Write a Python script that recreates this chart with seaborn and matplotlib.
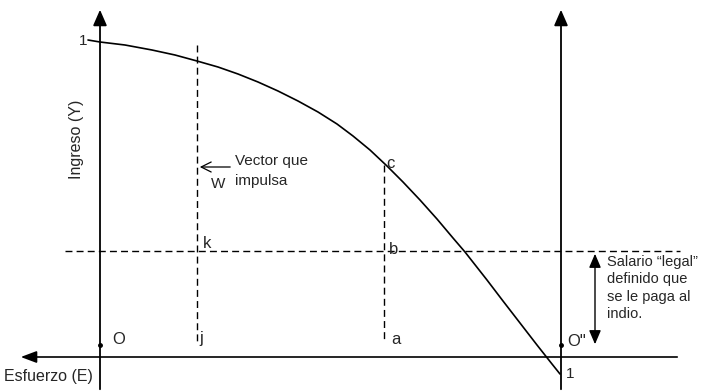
import matplotlib
matplotlib.use("Agg")
import matplotlib.pyplot as plt
import seaborn as sns
import pandas as pd

sns.set_theme(style="white")
plt.rcParams['font.family'] = ['Liberation Sans', 'DejaVu Sans']

# Diagram geometry (drawing units, y grows downward)
curve_x = [88, 100, 125, 152, 175, 197, 218, 238, 258, 278, 298, 318, 337,
           353, 370, 387, 403, 420, 437, 453, 465, 487, 503, 520, 537, 552, 560]
curve_y = [40, 42, 45, 50, 55, 61, 67, 74, 82, 91, 101, 112, 124,
           136, 150, 166, 182, 200, 219, 238, 252, 280, 301, 323, 345, 364, 374]

axis_left_x = 100
axis_right_x = 561
axis_h_y = 357
salary_y = 251
dash_vert_x = [197, 384]
dash_vert_top = [45, 165]
dash_vert_bottom = 342

point_labels = ["k", "b", "c", "j", "a", "O", "O\""]
point_lx = [203, 389, 386, 199, 391, 112, 567]
point_ly = [243, 249, 163, 338, 339, 339, 341]

df = pd.DataFrame({"E": curve_x, "Y": curve_y})

fig = plt.figure(figsize=(7.09, 3.92), dpi=100)
ax = fig.add_axes([0, 0, 1, 1])
ax.set_xlim(0, 709)
ax.set_ylim(392, 0)
ax.axis("off")

sns.lineplot(data=df, x="E", y="Y", ax=ax, color="black", lw=1.2, sort=False)

# axes with arrows
ax.annotate("", xy=(axis_left_x, 7), xytext=(axis_left_x, 392),
            arrowprops=dict(arrowstyle="-|>,head_length=0.8,head_width=0.35", color="black", lw=1.3))
ax.annotate("", xy=(axis_right_x, 7), xytext=(axis_right_x, 392),
            arrowprops=dict(arrowstyle="-|>,head_length=0.8,head_width=0.35", color="black", lw=1.3))
ax.annotate("", xy=(18, axis_h_y), xytext=(680, axis_h_y),
            arrowprops=dict(arrowstyle="-|>,head_length=0.8,head_width=0.3", color="black", lw=1.2))

# dashed lines
ax.plot([65, 680], [salary_y, salary_y], color="black", lw=1.0, ls=(0, (5, 3)))
for x, t in zip(dash_vert_x, dash_vert_top):
    ax.plot([x, x], [t, dash_vert_bottom], color="black", lw=1.0, ls=(0, (5, 3)))

# origin dots
ax.plot([axis_left_x, axis_right_x], [345, 345], "o", color="black", ms=2.5)

# labels
for s, x, y in zip(point_labels, point_lx, point_ly):
    ax.text(x, y, s, fontsize=12, ha="left", va="center")
ax.text(83, 41, "1", fontsize=11, ha="center", va="center")
ax.text(570, 374, "1", fontsize=11, ha="center", va="center")

# vector W
ax.annotate("", xy=(197, 167), xytext=(233, 167),
            arrowprops=dict(arrowstyle="->,head_length=0.6,head_width=0.3", color="black", lw=0.9))
ax.text(235, 161, "Vector que", fontsize=11, ha="left", va="center")
ax.text(235, 181, "impulsa", fontsize=11, ha="left", va="center")
ax.text(211, 184, "W", fontsize=11, ha="left", va="center")

# salary double arrow
ax.annotate("", xy=(595, 251), xytext=(595, 347),
            arrowprops=dict(arrowstyle="<|-|>,head_length=0.7,head_width=0.3", color="black", lw=1.0))
ax.text(607, 255, "Salario \u201clegal\u201d\ndefinido que\nse le paga al\nindio.",
        fontsize=10.5, ha="left", va="top", linespacing=1.3)

ax.text(76, 139, "Ingreso (Y)", fontsize=11.5, rotation=90, ha="center", va="center")
ax.text(4, 376, "Esfuerzo (E)", fontsize=11.5, ha="left", va="center")

fig.savefig("out.png", dpi=100)
